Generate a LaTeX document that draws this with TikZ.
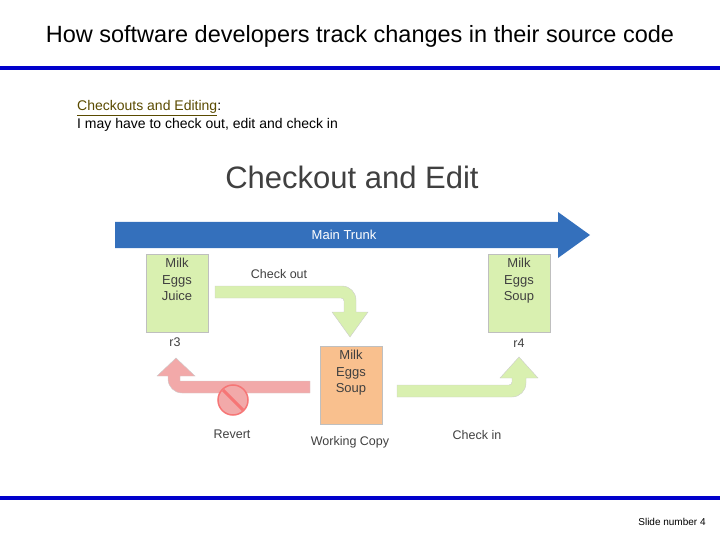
\documentclass[tikz,border=0pt]{standalone}
\usepackage{fontspec}
\setmainfont{Liberation Sans}
\usepackage{tikz}
\definecolor{rule}{HTML}{0000CC}
\definecolor{trunk}{HTML}{3470BC}
\definecolor{boxg}{HTML}{D9F0B0}
\definecolor{boxo}{HTML}{F9C08E}
\definecolor{revred}{HTML}{F2A9A9}
\definecolor{heading}{HTML}{5A4A00}
\tikzset{
  lbl/.style={text=black!75, font=\fontsize{12.5}{15}\selectfont},
  item/.style={draw=black!25, minimum width=62pt, minimum height=78pt, anchor=north},
  itemtxt/.style={align=center, anchor=north, yshift=-4pt, font=\fontsize{13}{16.5}\selectfont, text=black!75, inner sep=0pt},
  fat/.style={draw=black!20, line width=0.4pt}
}
\begin{document}
\begin{tikzpicture}[x=1pt,y=-1pt]
\useasboundingbox (0,0) rectangle (720,540);
\node[font=\fontsize{23.5}{26}\selectfont] (title) at (360,36) {How software developers track changes in their source code};
\draw[rule, line width=4pt] (0,68) -- (720,68);
\node[anchor=west, font=\fontsize{14}{16}\selectfont, text=heading, inner sep=0pt] (head) at (77,108) {\underline{Checkouts and Editing}\textcolor{black}{:}};
\node[anchor=west, font=\fontsize{14}{16}\selectfont, inner sep=0pt] (sub) at (77,125) {I may have to check out, edit and check in};
\node[font=\fontsize{31}{36}\selectfont, text=black!75] (big) at (352,177) {Checkout and Edit};

% main trunk
\fill[trunk] (115,222) -- (558,222) -- (558,212) -- (590,235) -- (558,258) -- (558,248) -- (115,248) -- cycle;
\node[text=white, font=\fontsize{13}{15}\selectfont] (trunk) at (344,235) {Main Trunk};

% revisions
\node[item, fill=boxg] (r3box) at (177,254) {};
\node[itemtxt] at (r3box.north) {Milk\\Eggs\\Juice};
\node[item, fill=boxg] (r4box) at (519,254) {};
\node[itemtxt] at (r4box.north) {Milk\\Eggs\\Soup};
\node[item, fill=boxo] (wc) at (351,346) {};
\node[itemtxt] at (wc.north) {Milk\\Eggs\\Soup};
\node[lbl] (r3) at (175,342) {r3};
\node[lbl] (r4) at (519,343) {r4};

% check out
\path[fat, fill=boxg] (215,286) [rounded corners=14pt] -- (356,286) [sharp corners] -- (356,312) -- (368,312) -- (350,337) -- (332,312) -- (344,312) [rounded corners=3pt] -- (344,298) [sharp corners] -- (215,298) -- cycle;
\node[lbl] (co) at (279,274) {Check out};

% revert
\path[fat, fill=revred] (310,381) -- (180,381) -- (180,376) -- (195,376) -- (176,358) -- (157,376) -- (168,376) [rounded corners=14pt] -- (168,393) [sharp corners] -- (310,393) -- cycle;
\draw[revred!70!red, fill=revred, line width=1.5pt] (233,400) circle (15);
\draw[revred!70!red, line width=3pt] (223,390) -- (243,410);
\node[lbl] (rv) at (232,434) {Revert};

% check in
\path[fat, fill=boxg] (397,397) [rounded corners=14pt] -- (526,397) [sharp corners] -- (526,378) -- (538,378) -- (519,357) -- (500,378) -- (512,378) [rounded corners=3pt] -- (512,385) [sharp corners] -- (397,385) -- cycle;
\node[lbl] (ci) at (477,435) {Check in};
\node[lbl] (wcl) at (350,442) {Working Copy};

\draw[rule, line width=4pt] (0,498) -- (720,498);
\node[font=\fontsize{10}{12}\selectfont] (slide) at (672,522) {Slide number 4};
\end{tikzpicture}
\end{document}
